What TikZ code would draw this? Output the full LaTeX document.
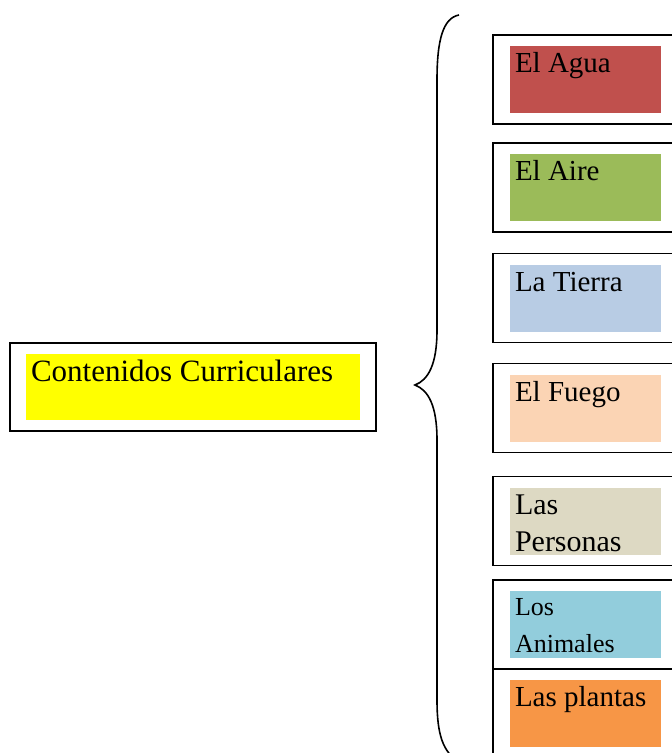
\documentclass[tikz,border=0pt]{standalone}
\usepackage{fontspec}
\setmainfont{Liberation Serif}
\definecolor{cyellow}{HTML}{FFFF00}
\definecolor{cagua}{HTML}{C0504D}
\definecolor{caire}{HTML}{9BBB59}
\definecolor{ctierra}{HTML}{B8CCE4}
\definecolor{cfuego}{HTML}{FBD4B4}
\definecolor{cpersonas}{HTML}{DDD9C3}
\definecolor{canimales}{HTML}{92CDDC}
\definecolor{cplantas}{HTML}{F79646}
\tikzset{
  frame/.style={draw, line width=1.6pt, minimum width=185pt, minimum height=89pt, inner sep=0pt},
  panel/.style={minimum width=151pt, minimum height=67pt, inner sep=0pt},
  lbl/.style={anchor=base west, inner sep=0pt, align=left}
}

\begin{document}
\begin{tikzpicture}[x=1pt,y=-1pt]
  \useasboundingbox (0,0) rectangle (672,753);
  \clip (0,0) rectangle (672,753);
  % main topic
  \node[frame, minimum width=366pt, minimum height=88pt] (cc) at (193,387) {};
  \node[panel, fill=cyellow, minimum width=334pt, minimum height=66pt] (ccf) at (cc) {};
  \node[lbl, font=\fontsize{31}{37}\selectfont] (cct) at ([shift={(5pt,-28pt)}]ccf.north west) {Contenidos Curriculares};
  % brace
  \draw[line width=1.6pt] (459,15) .. controls (443,18) and (437,40) .. (437,80) -- (437,330)
    .. controls (437,365) and (428,380) .. (415,385)
    .. controls (428,390) and (437,405) .. (437,440) -- (437,700)
    .. controls (437,735) and (443,752) .. (459,762);
  % topics (\b = baseline of last line below panel top)
  \foreach \y/\c/\n/\s/\b/\t in {79.5/cagua/agua/29/27/{El Agua}, 187.5/caire/aire/29/27/{El Aire},
      298/ctierra/tierra/29/27/{La Tierra}, 408/cfuego/fuego/29/27/{El Fuego},
      521/cpersonas/personas/30/64/{Las\\Personas}, 624.5/canimales/animales/26/62/{Los\\Animales},
      713.5/cplantas/plantas/29/27/{Las plantas}} {
    \node[frame] (\n) at (585.5,\y) {};
    \node[panel, fill=\c] (\n f) at (\n) {};
    \node[lbl, font=\fontsize{\s}{37}\selectfont] (\n t) at ([shift={(5pt,-\b pt)}]\n f.north west) {\t};
  }
\end{tikzpicture}
\end{document}
